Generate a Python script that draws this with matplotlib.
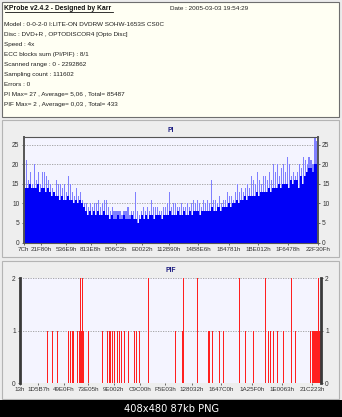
import matplotlib
matplotlib.use("Agg")
import matplotlib.pyplot as plt
from matplotlib.patches import Rectangle
import numpy as np

# ---------------- data ----------------
header_title = "KProbe v2.4.2 - Designed by Karr"
header_date = "Date : 2005-03-03 19:54:29"
info_lines = [
    "Model : 0-0-2-0 I:LITE-ON DVDRW SOHW-1653S CS0C",
    "Disc : DVD+R , OPTODISCOR4 [Opto Disc]",
    "Speed : 4x",
    "ECC blocks sum (PI/PIF) : 8/1",
    "Scanned range : 0 - 2292862",
    "Sampling count : 111602",
    "Errors : 0",
    "PI Max= 27 , Average= 5,06 , Total= 85487",
    "PIF Max= 2 , Average= 0,03 , Total= 433",
]

# PI per column: typical level and peak level
pi_base = [13, 14, 14, 15, 14, 14,
           14, 15, 13, 14, 14,
           13, 14, 13, 12, 13,
           12, 12, 11, 12, 11,
           11, 12, 11, 11, 10,
           11, 10, 11, 10, 9,
           8, 7, 8, 7, 8,
           7, 8, 7, 7, 8,
           7, 7, 6, 7, 6,
           6, 7, 6, 6, 7,
           6, 6, 6, 7, 6,
           6, 5, 6, 7, 6,
           7, 6, 7, 7, 6,
           7, 7, 7, 6, 7,
           7, 7, 8, 7, 7,
           7, 8, 7, 7, 8,
           7, 7, 8, 7, 8,
           8, 8, 7, 8, 8,
           8, 8, 8, 9, 8,
           8, 9, 9, 8, 9,
           9, 9, 10, 9, 10,
           10, 11, 10, 11, 11,
           12, 11, 12, 12, 12,
           12, 13, 12, 13, 13,
           13, 13, 14, 13, 14,
           14, 14, 15, 14, 15,
           15, 15, 14, 16, 15,
           16, 16, 14, 17, 15,
           17, 18, 19, 19, 18, 20, 20]
pi_peak = [17, 21, 16, 18, 15, 20,
           16, 18, 15, 18, 18,
           17, 16, 15, 14, 13,
           16, 15, 15, 14, 15,
           13, 17, 15, 13, 12,
           14, 12, 13, 11, 10,
           10, 9, 10, 9, 10,
           10, 11, 9, 10, 11,
           11, 9, 8, 9, 8,
           8, 8, 8, 7, 8,
           8, 9, 7, 8, 8,
           13, 8, 7, 8, 9,
           8, 9, 8, 11, 9,
           9, 9, 8, 8, 9,
           9, 10, 13, 9, 10,
           10, 9, 9, 10, 9,
           9, 10, 9, 10, 11,
           10, 11, 10, 9, 11,
           10, 11, 10, 16, 11,
           11, 10, 12, 10, 11,
           11, 13, 12, 12, 11,
           13, 15, 13, 14, 13,
           14, 15, 14, 17, 16,
           15, 18, 16, 15, 17,
           17, 16, 18, 16, 20,
           18, 20, 17, 19, 20,
           18, 22, 20, 17, 18,
           17, 18, 20, 19, 22,
           21, 20, 22, 21, 20, 27, 26]

pi_xlabels = ["7Ch", "21F80h", "536E9h", "813E8h", "B06C3h", "E0022h",
              "112B90h", "14B8E6h", "184781h", "1BE012h", "1F6478h", "22F30Fh"]
pi_label_pos = [0.0, 0.059, 0.144, 0.229, 0.314, 0.402,
                0.494, 0.593, 0.698, 0.796, 0.898, 1.0]

# PIF: nonzero samples (column index, value) over 301 columns
pif_columns = 301
pif_index = [27, 32, 37, 48, 50, 52, 53, 57, 59, 60, 61, 62, 63, 68, 82,
             87, 89, 90, 92, 94, 97, 99, 101, 104, 108, 114, 116, 119, 128,
             155, 162, 163, 177, 188, 189, 192, 199, 203, 219, 225, 233,
             245, 248, 250, 253, 257, 263, 271, 275, 290, 292,
             293, 294, 295, 296, 297, 298, 299, 300]
pif_value = [1, 1, 1, 1, 1, 1, 1, 1, 1, 2, 1, 2, 1, 1, 1,
             1, 1, 1, 1, 1, 1, 1, 1, 1, 1, 1, 1, 1, 2,
             1, 1, 2, 2, 1, 1, 1, 1, 1, 2, 1, 1,
             2, 1, 1, 1, 1, 1, 2, 1, 1, 1,
             1, 1, 1, 1, 1, 2, 1, 1]

pif_xlabels = ["13h", "1D5B7h", "49E0Fh", "73E05h", "9E002h", "C9C00h",
               "F5E03h", "128032h", "1647C0h", "1A25F0h", "1E0063h", "21C223h"]
pif_label_pos = [0.0, 0.061, 0.146, 0.226, 0.312, 0.399,
                 0.482, 0.571, 0.668, 0.771, 0.870, 0.970]

# ---------------- figure ----------------
W, H = 342, 417
FONT = "Liberation Sans"
fig = plt.figure(figsize=(W / 100, H / 100), dpi=100)
fig.patch.set_facecolor("#ECECEC")


def fx(x):
    return x / W


def fy(y):
    return 1 - y / H


def frame(x0, y0, x1, y1, fc, ec, lw=0.8):
    fig.add_artist(Rectangle((fx(x0), fy(y1)), (x1 - x0) / W, (y1 - y0) / H,
                             transform=fig.transFigure, facecolor=fc,
                             edgecolor=ec, linewidth=lw, zorder=-5))


# info box
frame(2, 2, 339, 117, "#FFFFF3", "#6E6E6E")
fig.text(fx(4.5), fy(8.5), header_title, fontsize=4.9, fontweight="bold",
         family=FONT, va="center", ha="left", color="#111111")
fig.add_artist(plt.Line2D([fx(4.5), fx(113)], [fy(12.2), fy(12.2)],
                          transform=fig.transFigure, color="#111111", lw=0.6))
fig.text(fx(170), fy(8.5), header_date, fontsize=4.6, family=FONT,
         va="center", ha="left", color="#222222")
for i, line in enumerate(info_lines):
    fig.text(fx(4.5), fy(24.5 + 10 * i), line, fontsize=4.55, family=FONT,
             va="center", ha="left", color="#1E1E1E")

# chart panels
frame(2, 120, 339, 257, "#EEEEEE", "#B4B4B4")
frame(2, 261, 339, 399, "#EEEEEE", "#B4B4B4")


def style_axes(ax):
    ax.set_facecolor("#F4F4FF")
    ax.tick_params(axis="both", labelsize=4.5, length=1.5, width=0.5,
                   colors="#333333", pad=1.5)
    ax.tick_params(axis="y", labelsize=4.8, left=True, right=True,
                   labelleft=True, labelright=True)
    for lab in ax.get_xticklabels() + ax.get_yticklabels():
        lab.set_family(FONT)
    ax.yaxis.grid(True, linestyle=(0, (1.5, 1.5)), color="#9A9A9A", lw=0.6)
    ax.set_axisbelow(True)


# PI chart: thin light spikes over a solid blue body
ax1 = fig.add_axes([fx(23.5), fy(242.5), 294.5 / W, 105.5 / H])
n_pi = len(pi_base)
cols = np.arange(n_pi)
ax1.bar(cols + 0.5, pi_peak, width=0.55, align="center", color="#8080FF",
        linewidth=0)
ax1.bar(cols, pi_base, width=1.0, align="edge", color="#0000F8", linewidth=0)
ax1.set_xlim(0, n_pi)
ax1.set_ylim(0, 27)
ax1.set_yticks([0, 5, 10, 15, 20, 25])
ax1.set_xticks([p * n_pi for p in pi_label_pos])
ax1.set_xticklabels(pi_xlabels)
style_axes(ax1)
for s in ax1.spines.values():
    s.set_color("#555555")
    s.set_linewidth(0.8)
ax1.spines["left"].set_linewidth(1.4)
ax1.spines["right"].set_linewidth(1.4)
fig.text(fx(171), fy(130), "PI", fontsize=4.8, fontweight="bold",
         family=FONT, color="#1A1A80", ha="center", va="center")

# PIF chart
ax2 = fig.add_axes([fx(20), fy(383.3), 301 / W, 105 / H])
ax2.bar(pif_index, pif_value, width=0.85, align="edge", color="#FF2020",
        linewidth=0)
ax2.set_xlim(0, pif_columns)
ax2.set_ylim(0, 2)
ax2.set_yticks([0, 1, 2])
ax2.set_xticks([p * pif_columns for p in pif_label_pos])
ax2.set_xticklabels(pif_xlabels)
style_axes(ax2)
for side in ("top", "bottom"):
    ax2.spines[side].set_visible(False)
for side in ("left", "right"):
    ax2.spines[side].set_color("#3A3A3A")
    ax2.spines[side].set_linewidth(2.0)
ax2.axhline(0, color="#9A9A9A", lw=0.6, linestyle=(0, (1.5, 1.5)))
fig.text(fx(171), fy(271), "PIF", fontsize=4.8, fontweight="bold",
         family=FONT, color="#1A1A80", ha="center", va="center")

# caption strip
fig.add_artist(Rectangle((0, 0), 1, 17.5 / H, transform=fig.transFigure,
                         facecolor="black", edgecolor="none"))
fig.text(0.5, fy(408.5), "408x480 87kb PNG", fontsize=7.1, family="DejaVu Sans",
         color="white", ha="center", va="center")

fig.savefig("out.png", dpi=100, facecolor=fig.get_facecolor())
